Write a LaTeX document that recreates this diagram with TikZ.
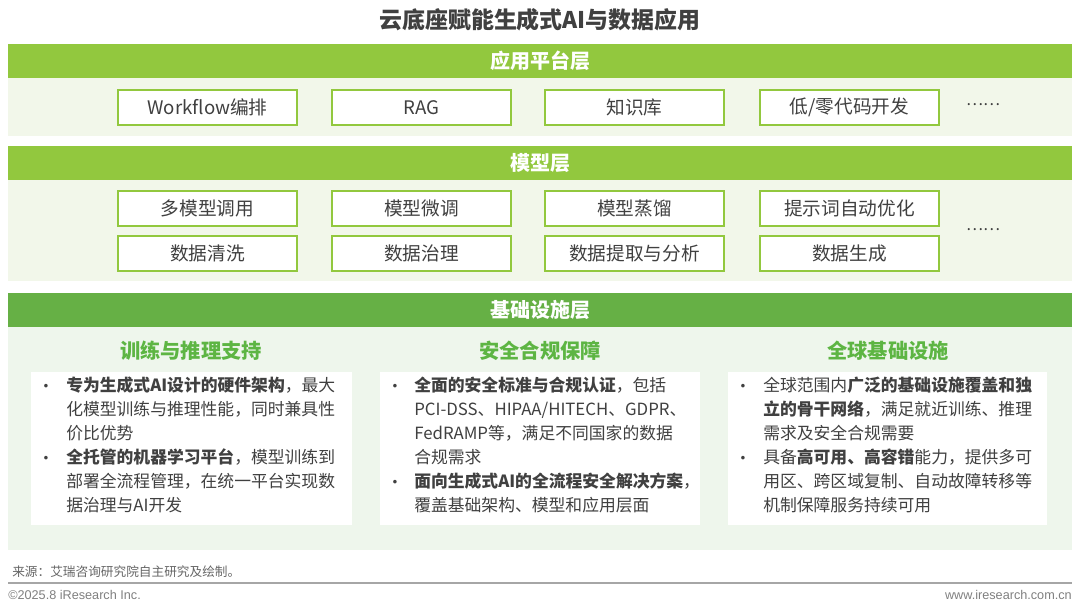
\documentclass[tikz,border=0pt]{standalone}
\usepackage{fontspec}
\setmainfont{Noto Sans CJK SC}
\newfontfamily\lat{Liberation Sans}
\definecolor{lime}{RGB}{146,200,62}
\definecolor{limebg}{RGB}{242,247,234}
\definecolor{dgreen}{RGB}{102,176,69}
\definecolor{dgbg}{RGB}{238,246,236}
\definecolor{hgreen}{RGB}{93,181,67}
\definecolor{txt}{RGB}{64,64,64}
\begin{document}
\begin{tikzpicture}[x=0.75pt,y=-0.75pt,
  bar/.style={fill=#1,draw=none},
  bartext/.style={text=white,font=\fontsize{15}{17}\selectfont\bfseries},
  cell/.style={draw=lime,line width=1pt,fill=white,minimum width=179*0.75pt,minimum height=35*0.75pt,text=txt,font=\fontsize{14}{16}\selectfont,inner sep=0pt},
  head/.style={text=hgreen,font=\fontsize{15.2}{17}\selectfont\bfseries},
  body/.style={text=txt,font=\fontsize{12.6}{18}\selectfont,align=left,anchor=north west,inner sep=0pt},
  bul/.style={text=txt,font=\fontsize{12.6}{18}\selectfont,inner sep=0pt},
  dots/.style={text=txt,font=\fontsize{12}{14}\selectfont}]
\useasboundingbox (0,0) rectangle (1080,611);
\fill[white] (0,0) rectangle (1080,611);
\node[text=txt,font=\fontsize{17.2}{20}\selectfont\bfseries] (title) at (540,20) {云底座赋能生成式AI与数据应用};
% layer 1
\fill[bar=lime] (8,44) rectangle (1072,78);
\fill[limebg] (8,78) rectangle (1072,136);
\node[bartext] (l1) at (540,61) {应用平台层};
\node[cell] (a1) at (207.5,107.5) {Workflow编排};
\node[cell] (a2) at (421.5,107.5) {RAG};
\node[cell] (a3) at (634.5,107.5) {知识库};
\node[cell] (a4) at (849.5,107.5) {低/零代码开发};
\node[dots] (ad) at (983,105) {……};
% layer 2
\fill[bar=lime] (8,146) rectangle (1072,180);
\fill[limebg] (8,180) rectangle (1072,281);
\node[bartext] (l2) at (540,163) {模型层};
\node[cell] (b1) at (207.5,208.5) {多模型调用};
\node[cell] (b2) at (421.5,208.5) {模型微调};
\node[cell] (b3) at (634.5,208.5) {模型蒸馏};
\node[cell] (b4) at (849.5,208.5) {提示词自动优化};
\node[cell] (c1) at (207.5,253.5) {数据清洗};
\node[cell] (c2) at (421.5,253.5) {数据治理};
\node[cell] (c3) at (634.5,253.5) {数据提取与分析};
\node[cell] (c4) at (849.5,253.5) {数据生成};
\node[dots] (bd) at (983,230) {……};
% layer 3
\fill[bar=dgreen] (8,293) rectangle (1072,327);
\fill[dgbg] (8,327) rectangle (1072,550);
\node[bartext] (l3) at (540,310) {基础设施层};
\node[head] (h1) at (191,351) {训练与推理支持};
\node[head] (h2) at (540,351) {安全合规保障};
\node[head] (h3) at (888,351) {全球基础设施};
\fill[white] (31,372) rectangle (352,525);
\fill[white] (380,372) rectangle (700,525);
\fill[white] (728,372) rectangle (1047,525);
\node[bul] (p1) at (46,388) {•};
\node[bul] (p2) at (46,460) {•};
\node[body] (t1) at (66,377) {\textbf{专为生成式AI设计的硬件架构}，最大\\化模型训练与推理性能，同时兼具性\\价比优势\\\textbf{全托管的机器学习平台}，模型训练到\\部署全流程管理，在统一平台实现数\\据治理与AI开发};
\node[bul] (q1) at (395,388) {•};
\node[bul] (q2) at (395,484) {•};
\node[body] (t2) at (414,377) {\textbf{全面的安全标准与合规认证}，包括\\PCI-DSS、HIPAA/HITECH、GDPR、\\FedRAMP等，满足不同国家的数据\\合规需求\\\textbf{面向生成式AI的全流程安全解决方案}，\\覆盖基础架构、模型和应用层面};
\node[bul] (r1) at (743,388) {•};
\node[bul] (r2) at (743,460) {•};
\node[body] (t3) at (763,377) {全球范围内\textbf{广泛的基础设施覆盖和独}\\\textbf{立的骨干网络}，满足就近训练、推理\\需求及安全合规需要\\具备\textbf{高可用、高容错}能力，提供多可\\用区、跨区域复制、自动故障转移等\\机制保障服务持续可用};
% footer
\node[anchor=west,text=txt!80,font=\fontsize{9.5}{11}\selectfont,inner sep=0pt] (src) at (12,572) {来源：艾瑞咨询研究院自主研究及绘制。};
\draw[gray!70,line width=0.8pt] (8,583) -- (1072,583);
\node[anchor=west,text=gray,font=\lat\fontsize{9.5}{11}\selectfont,inner sep=0pt] (cp) at (8,595) {©2025.8 iResearch Inc.};
\node[anchor=east,text=gray,font=\lat\fontsize{9.5}{11}\selectfont,inner sep=0pt] (www) at (1072,595) {www.iresearch.com.cn};
\end{tikzpicture}
\end{document}
